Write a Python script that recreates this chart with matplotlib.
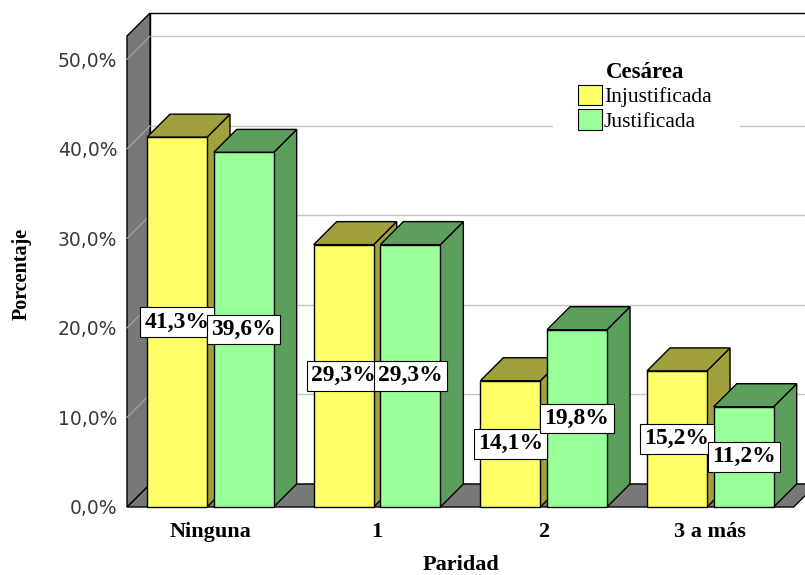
import numpy as np
import matplotlib
matplotlib.use('Agg')
import matplotlib.pyplot as plt
from matplotlib.patches import Polygon, Rectangle, Patch

# --- Datos: Cesárea según paridad (%) ---
categorias = ["Ninguna", "1", "2", "3 a más"]
injustificada = [41.3, 29.3, 14.1, 15.2]
justificada = [39.6, 29.3, 19.8, 11.2]
series_nombres = ["Injustificada", "Justificada"]
yticks_valores = [0, 10, 20, 30, 40, 50]

# --- Estilo ---
W_PX, H_PX = 805, 575
AX_LEFT, AX_RIGHT, AX_TOP, AX_BOTTOM = 127, 793.7, 36, 507   # plano frontal en píxeles
YMAX = 52.6
DEPTH_PX = 23          # profundidad del efecto 3D
BAR_W = 0.36
BAR_OFFSETS = [-0.38, 0.02]

COLOR_FRENTE = ["#FFFF66", "#99FF99"]
COLOR_LADO = ["#A0A03C", "#5C9E5C"]
COLOR_PARED = "#787878"
COLOR_GRID = "#C4C4C4"
SERIF = "Liberation Serif"

fig = plt.figure(figsize=(W_PX / 100, H_PX / 100), dpi=100)
ax = fig.add_axes([AX_LEFT / W_PX, 1 - AX_BOTTOM / H_PX,
                   (AX_RIGHT - AX_LEFT) / W_PX, (AX_BOTTOM - AX_TOP) / H_PX])
ax.set_xlim(-0.5, len(categorias) - 0.5)
ax.set_ylim(0, YMAX)

# conversión de la profundidad de píxeles a unidades de datos
DX = DEPTH_PX * (len(categorias) / (AX_RIGHT - AX_LEFT))
DY = DEPTH_PX * (YMAX / (AX_BOTTOM - AX_TOP))
x0, x1 = -0.5, len(categorias) - 0.5


def poly(pts, fc, ec="black", lw=1.0, z=1):
    ax.add_patch(Polygon(pts, closed=True, facecolor=fc, edgecolor=ec,
                         linewidth=lw, zorder=z, clip_on=False, joinstyle="miter"))


# pared del fondo, piso y pared izquierda
poly([(x0 + DX, DY), (x1 + DX, DY), (x1 + DX, YMAX + DY), (x0 + DX, YMAX + DY)], "white", z=0.5)
for v in yticks_valores[1:]:
    ax.plot([x0 + DX, x1 + DX], [v + DY, v + DY], color=COLOR_GRID, lw=1, zorder=0.8, clip_on=False)
poly([(x0, 0), (x1, 0), (x1 + DX, DY), (x0 + DX, DY)], COLOR_PARED, z=0.9)
poly([(x0, 0), (x0, YMAX), (x0 + DX, YMAX + DY), (x0 + DX, DY)], COLOR_PARED, z=0.9)
for v in yticks_valores[1:]:
    ax.plot([x0, x0 + DX], [v, v + DY], color="#A8A8A8", lw=0.8, zorder=0.95, clip_on=False)

# barras 3D, de izquierda a derecha
valores = [injustificada, justificada]
for i in range(len(categorias)):
    for j in range(2):
        h = valores[j][i]
        bx = i + BAR_OFFSETS[j]
        z = 2 + i * 2 + j
        poly([(bx + BAR_W, 0), (bx + BAR_W + DX, DY), (bx + BAR_W + DX, h + DY), (bx + BAR_W, h)],
             COLOR_LADO[j], z=z)
        poly([(bx, h), (bx + BAR_W, h), (bx + BAR_W + DX, h + DY), (bx + DX, h + DY)],
             COLOR_LADO[j], z=z)
        poly([(bx, 0), (bx + BAR_W, 0), (bx + BAR_W, h), (bx, h)], COLOR_FRENTE[j], z=z)

# etiquetas de valor
for i in range(len(categorias)):
    for j in range(2):
        h = valores[j][i]
        ax.text(i + BAR_OFFSETS[j] + BAR_W / 2, h / 2, f"{h:.1f}%".replace(".", ","),
                ha="center", va="center", family=SERIF, fontweight="bold", fontsize=17,
                zorder=20,
                bbox=dict(boxstyle="square,pad=0.18", facecolor="white", edgecolor="black", linewidth=0.8))

# ejes
for s in ax.spines.values():
    s.set_visible(False)
ax.set_yticks(yticks_valores)
ax.set_yticklabels([f"{v:.1f}%".replace(".", ",") for v in yticks_valores],
                   fontsize=13.5, color="#3A3A3A", family="DejaVu Sans")
ax.set_xticks(range(len(categorias)))
ax.set_xticklabels(categorias, family=SERIF, fontweight="bold", fontsize=16)
ax.tick_params(axis="y", length=0, pad=7)
ax.tick_params(axis="x", length=0, pad=11)
ax.patch.set_visible(False)

fig.text(22 / W_PX, 1 - 274 / H_PX, "Porcentaje", rotation=90, ha="center", va="center",
         family=SERIF, fontweight="bold", fontsize=14.5)
fig.text(461 / W_PX, 1 - 565 / H_PX, "Paridad", ha="center", va="center",
         family=SERIF, fontweight="bold", fontsize=16)

# leyenda
ax.add_patch(Rectangle((553 / W_PX, 1 - 140 / H_PX), 187 / W_PX, 95 / H_PX,
                       transform=fig.transFigure, facecolor="white", edgecolor="none",
                       zorder=25, clip_on=False))
handles = [Patch(facecolor=COLOR_FRENTE[k], edgecolor="black", linewidth=0.8) for k in range(2)]
leg = ax.legend(handles, series_nombres, title="Cesárea", loc="upper left",
                bbox_to_anchor=(563 / W_PX, 1 - 47 / H_PX), bbox_transform=fig.transFigure,
                frameon=False, prop={"family": SERIF, "size": 15.5},
                handlelength=1.1, handleheight=1.1, handletextpad=0.1, labelspacing=0.08,
                borderpad=0.2)
leg.get_title().set_fontproperties({"family": SERIF, "weight": "bold", "size": 16.5})
leg.set_zorder(30)

fig.savefig("out.png", dpi=100)
